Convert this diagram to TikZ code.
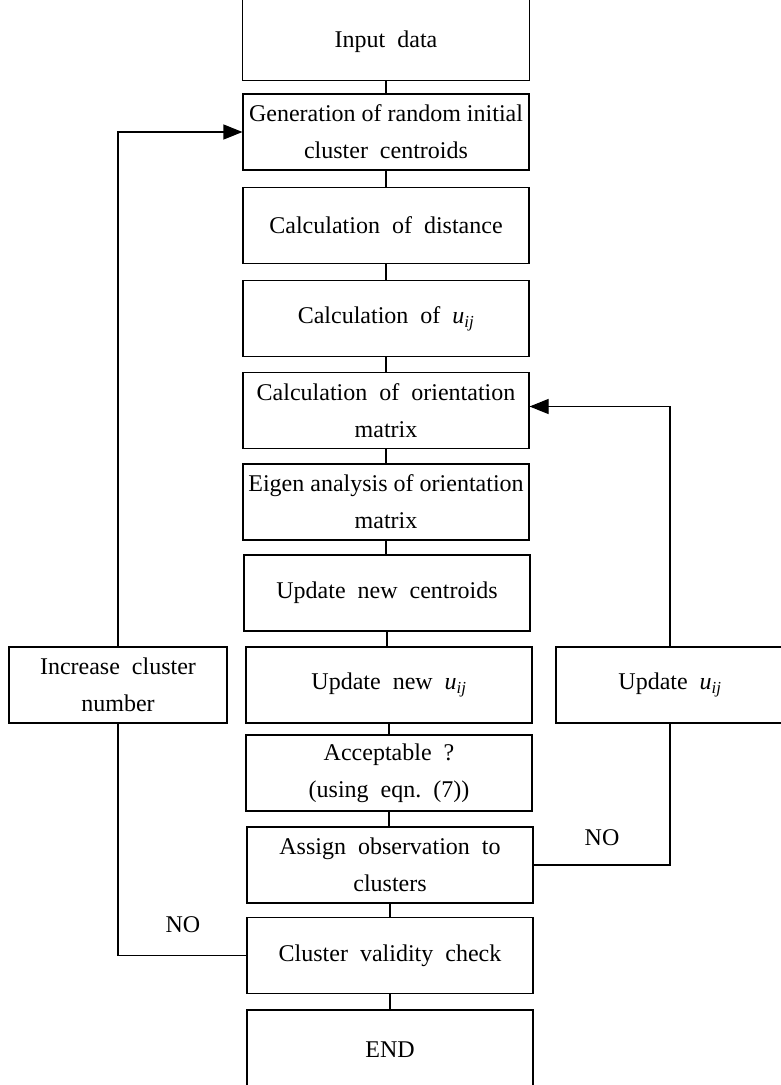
\documentclass[tikz,border=0pt]{standalone}
\usepackage{fontspec}
\setmainfont{Liberation Serif}
\usetikzlibrary{arrows.meta}
\newcommand{\uij}{\textit{u}\textsubscript{\textit{ij}}}
\begin{document}
\begin{tikzpicture}[x=1pt,y=-1pt,
  box/.style={draw, line width=1.1pt, minimum width=286pt, minimum height=76pt, align=center, inner sep=0pt,
    font=\fontsize{24}{37}\selectfont},
  plain/.style={box, draw=none},
  conn/.style={line width=1.1pt},
  arr/.style={line width=1.1pt, -{Triangle[length=19pt,width=15pt]}},
  lbl/.style={font=\fontsize{24}{37}\selectfont, inner sep=0pt}]
\useasboundingbox (0,0) rectangle (781,1085);
% main column
\node[plain] (input) at (386,42) {Input\ \ data};
\draw[line width=1.1pt] ([yshift=60pt]input.north west) -- (input.south west) -- (input.south east) -- ([yshift=60pt]input.north east);
\node[box] (gen) at (386,132) {Generation of random initial\\cluster\ \ centroids};
\node[box] (dist) at (386,225.5) {Calculation\ \ of\ \ distance};
\node[box] (uij) at (386,318.5) {Calculation\ \ of\ \ \uij};
\node[box] (orient) at (386,410.5) {Calculation\ \ of\ \ orientation\\matrix};
\node[box] (eigen) at (386,502) {Eigen analysis of orientation\\matrix};
\node[box] (cent) at (387,593) {Update\ \ new\ \ centroids};
\node[box] (newu) at (389,685) {Update\ \ new\ \ \uij};
\node[box] (accept) at (389,773) {Acceptable\ \ ?\\(using\ \ eqn.\ \ (7))};
\node[box] (assign) at (390,865) {Assign\ \ observation\ \ to\\clusters};
\node[box] (valid) at (390,955.5) {Cluster\ \ validity\ \ check};
\node[box, minimum height=80pt] (end) at (390,1050) {END};
% side boxes
\node[box, minimum width=218pt] (inc) at (118,685) {Increase\ \ cluster\\number};
\node[box, minimum width=228pt] (upd) at (670,685) {Update\ \ \uij};
% vertical connectors
\foreach \a/\b in {input/gen, gen/dist, dist/uij, uij/orient, orient/eigen, eigen/cent, cent/newu, newu/accept, accept/assign, assign/valid, valid/end}
  \draw[conn] (\a.south) -- (\a.south |- \b.north);
% left loop
\draw[arr] (inc.north) -- (inc.north |- gen.west) -- (gen.west);
\draw[conn] (inc.south) -- (inc.south |- valid.west) -- (valid.west);
% right loop
\coordinate (oe) at ([yshift=4pt]orient.east);
\draw[arr] (upd.north) -- (upd.north |- oe) -- (oe);
\draw[conn] (upd.south) -- (upd.south |- assign.east) -- (assign.east);
% labels
\node[lbl] (no1) at (183,925) {NO};
\node[lbl] (no2) at (602,838) {NO};
\end{tikzpicture}
\end{document}
